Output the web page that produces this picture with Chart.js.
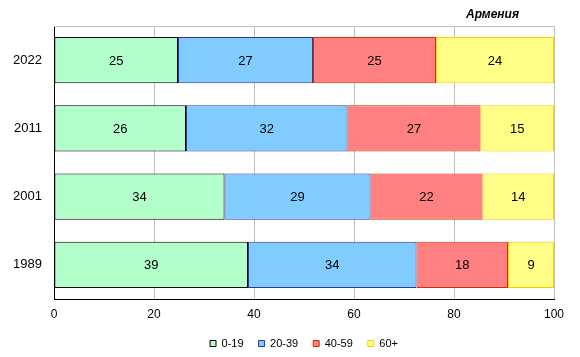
<!DOCTYPE html>
<html>
<head>
<meta charset="utf-8">
<script src="https://cdn.jsdelivr.net/npm/chart.js@4/dist/chart.umd.min.js"></script>
<style>
  html, body { margin: 0; padding: 0; background: #ffffff; }
  #wrap { width: 580px; height: 357px; position: relative; }
</style>
</head>
<body>
<div id="wrap"><canvas id="c" width="580" height="357"></canvas></div>
<script>
const chartTitle = 'Армения';
const categories = ['2022', '2011', '2001', '1989'];
const seriesNames = ['0-19', '20-39', '40-59', '60+'];
const age0_19 = [24.8, 26.4, 34.1, 38.8];
const age20_39 = [27.0, 32.3, 29.2, 33.7];
const age40_59 = [24.6, 26.6, 22.4, 18.3];
const age60plus = [23.6, 14.7, 14.3, 9.2];
const xTicks = [0, 20, 40, 60, 80, 100];

const FONT = '"Liberation Sans", Arial, sans-serif';
const fills = ['#b3ffcc', '#80ccff', '#ff8080', '#ffff88'];
const borders = ['#000000', '#333399', '#cc3300', '#ffcc00'];
const values = [age0_19, age20_39, age40_59, age60plus];

const datasets = values.map((v, i) => ({
  label: seriesNames[i],
  data: v,
  backgroundColor: fills[i],
  borderColor: borders[i],
  borderWidth: 1,
  borderSkipped: false,
  categoryPercentage: 1.0,
  barPercentage: 0.674
}));

const extras = {
  id: 'extras',
  beforeDatasetsDraw(chart) {
    const {ctx, chartArea: a} = chart;
    ctx.save();
    ctx.strokeStyle = '#c0c0c0';
    ctx.lineWidth = 1;
    ctx.beginPath();
    ctx.moveTo(a.left, Math.round(a.top) + 0.5);
    ctx.lineTo(a.right, Math.round(a.top) + 0.5);
    ctx.stroke();
    ctx.restore();
  },
  afterDatasetsDraw(chart) {
    const {ctx} = chart;
    ctx.save();
    ctx.fillStyle = '#000000';
    ctx.font = '13px ' + FONT;
    ctx.textAlign = 'center';
    ctx.textBaseline = 'middle';
    chart.data.datasets.forEach((ds, di) => {
      const meta = chart.getDatasetMeta(di);
      meta.data.forEach((el, i) => {
        const p = el.getProps(['x', 'y', 'base'], true);
        ctx.fillText(String(Math.round(ds.data[i])), (p.x + p.base) / 2, p.y + 1);
      });
    });
    ctx.restore();
  },
  afterDraw(chart) {
    const {ctx, chartArea: a} = chart;
    ctx.save();
    ctx.fillStyle = '#000000';
    ctx.font = 'italic bold 12px ' + FONT;
    ctx.textAlign = 'right';
    ctx.textBaseline = 'middle';
    ctx.fillText(chartTitle, a.right - 35, 15);
    ctx.restore();
  }
};

new Chart(document.getElementById('c'), {
  type: 'bar',
  data: { labels: categories, datasets },
  options: {
    indexAxis: 'y',
    responsive: false,
    animation: false,
    devicePixelRatio: 1,
    layout: { padding: { top: 26, right: 26, bottom: -2, left: 0 } },
    scales: {
      x: {
        stacked: true,
        min: 0,
        max: 100,
        afterBuildTicks(scale) { scale.ticks = xTicks.map(v => ({ value: v })); },
        afterFit(scale) { scale.height = 24; },
        grid: { color: '#c0c0c0', drawTicks: false, lineWidth: 1 },
        border: { color: '#000000', width: 1 },
        ticks: { color: '#000000', font: { family: FONT, size: 12 }, padding: 8, maxRotation: 0 }
      },
      y: {
        stacked: true,
        afterFit(scale) { scale.width = 54; },
        grid: { display: false, drawTicks: false },
        border: { color: '#000000', width: 1 },
        ticks: { color: '#000000', font: { family: FONT, size: 13 }, padding: 12 }
      }
    },
    plugins: {
      legend: {
        position: 'bottom',
        fullSize: false,
        labels: {
          boxWidth: 6,
          boxHeight: 6,
          padding: 15,
          color: '#000000',
          font: { family: FONT, size: 11 }
        }
      },
      tooltip: { enabled: false },
      title: { display: false }
    }
  },
  plugins: [extras]
});
</script>
</body>
</html>
